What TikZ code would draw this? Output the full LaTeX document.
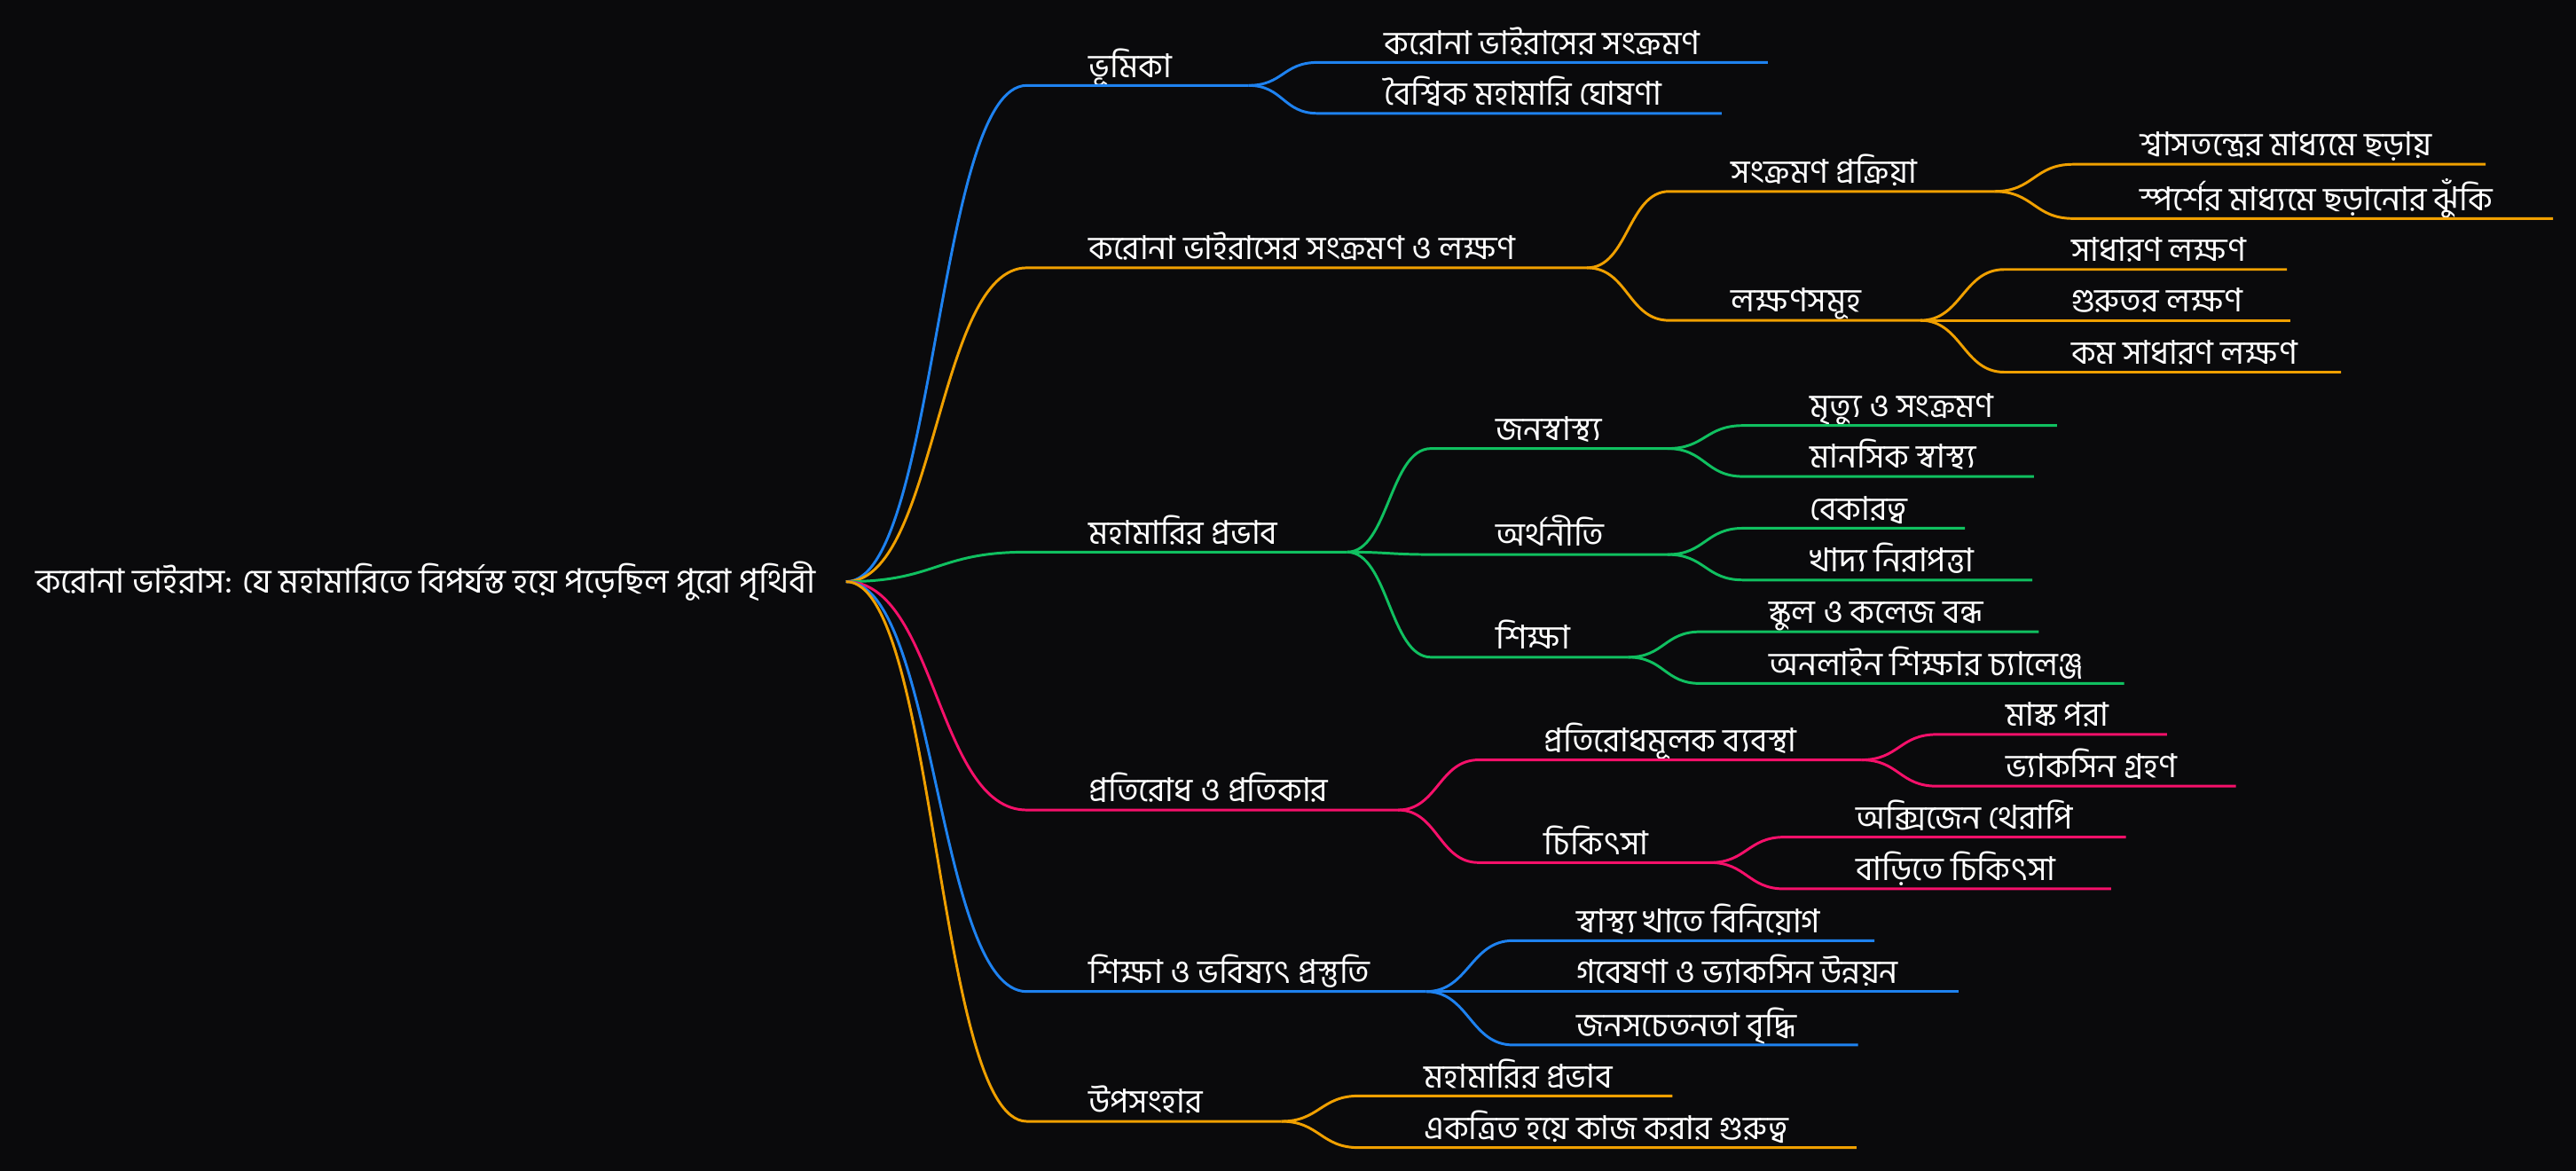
\documentclass[tikz,border=0pt]{standalone}
\usepackage{fontspec}
\newfontfamily\bnfont[Script=Bengali]{Hind Siliguri}
\definecolor{bg}{HTML}{0A0A0C}
\definecolor{cblue}{HTML}{1E82F0}
\definecolor{corange}{HTML}{F0A000}
\definecolor{cgreen}{HTML}{10C060}
\definecolor{cpink}{HTML}{F5106A}
\begin{document}
\begin{tikzpicture}[x=1pt,y=-1pt,line width=1.6pt,
  lbl/.style={anchor=base west,inner sep=0pt,text height=15pt,text depth=5pt,text=white,font=\bnfont\fontsize{20}{22}\selectfont},
  link/.style={out=0,in=180,distance=#1}]
  \fill[bg] (0,0) rectangle (1568,712.7);
  % root
  \node[lbl,font=\bnfont\fontsize{20.5}{24}\selectfont] (root) at (21,361) {করোনা ভাইরাস: যে মহামারিতে বিপর্যস্ত হয়ে পড়েছিল পুরো পৃথিবী};
  \coordinate (root-e) at (515,354);
  % ভূমিকা
  \begin{scope}[cblue]
    \coordinate (intro-s) at (625,52); \coordinate (intro-e) at (760,52);
    \node[lbl] (intro) at (662,47) {ভূমিকা};
    \coordinate (introA-s) at (802,38); \coordinate (introA-e) at (1076,38);
    \node[lbl] (introA) at (842,33) {করোনা ভাইরাসের সংক্রমণ};
    \coordinate (introB-s) at (802,69); \coordinate (introB-e) at (1048,69);
    \node[lbl] (introB) at (842,64) {বৈশ্বিক মহামারি ঘোষণা};
    \draw (root-e) to[link=55pt] (intro-s) -- (intro-e);
    \draw (intro-e) to[link=21pt] (introA-s) -- (introA-e);
    \draw (intro-e) to[link=21pt] (introB-s) -- (introB-e);
  \end{scope}
  % সংক্রমণ ও লক্ষণ
  \begin{scope}[corange]
    \coordinate (spread-s) at (625,163); \coordinate (spread-e) at (966,163);
    \node[lbl] (spread) at (662,158) {করোনা ভাইরাসের সংক্রমণ ও লক্ষণ};
    \coordinate (route-s) at (1016,116.5); \coordinate (route-e) at (1214,116.5);
    \node[lbl] (route) at (1053,111.5) {সংক্রমণ প্রক্রিয়া};
    \coordinate (route1-s) at (1262,100); \coordinate (route1-e) at (1513,100);
    \node[lbl] (route1) at (1302,95) {শ্বাসতন্ত্রের মাধ্যমে ছড়ায়};
    \coordinate (route2-s) at (1262,133); \coordinate (route2-e) at (1554,133);
    \node[lbl] (route2) at (1302,128) {স্পর্শের মাধ্যমে ছড়ানোর ঝুঁকি};
    \coordinate (symp-s) at (1016,195); \coordinate (symp-e) at (1169,195);
    \node[lbl] (symp) at (1053,190) {লক্ষণসমূহ};
    \coordinate (symp1-s) at (1220,164); \coordinate (symp1-e) at (1392,164);
    \node[lbl] (symp1) at (1260,159) {সাধারণ লক্ষণ};
    \coordinate (symp2-s) at (1220,195); \coordinate (symp2-e) at (1394,195);
    \node[lbl] (symp2) at (1260,190) {গুরুতর লক্ষণ};
    \coordinate (symp3-s) at (1220,226.5); \coordinate (symp3-e) at (1425,226.5);
    \node[lbl] (symp3) at (1260,221.5) {কম সাধারণ লক্ষণ};
    \draw (root-e) to[link=55pt] (spread-s) -- (spread-e);
    \draw (spread-e) to[link=25pt] (route-s) -- (route-e);
    \draw (spread-e) to[link=25pt] (symp-s) -- (symp-e);
    \draw (route-e) to[link=24pt] (route1-s) -- (route1-e);
    \draw (route-e) to[link=24pt] (route2-s) -- (route2-e);
    \draw (symp-e) to[link=25pt] (symp1-s) -- (symp1-e);
    \draw (symp-e) to[link=25pt] (symp2-s) -- (symp2-e);
    \draw (symp-e) to[link=25pt] (symp3-s) -- (symp3-e);
  \end{scope}
  % মহামারির প্রভাব
  \begin{scope}[cgreen]
    \coordinate (impact-s) at (625,336); \coordinate (impact-e) at (820,336);
    \node[lbl] (impact) at (662,331) {মহামারির প্রভাব};
    \coordinate (health-s) at (871,273); \coordinate (health-e) at (1015,273);
    \node[lbl] (health) at (910,268) {জনস্বাস্থ্য};
    \coordinate (health1-s) at (1061,259); \coordinate (health1-e) at (1252,259);
    \node[lbl] (health1) at (1101,254) {মৃত্যু ও সংক্রমণ};
    \coordinate (health2-s) at (1061,290); \coordinate (health2-e) at (1238,290);
    \node[lbl] (health2) at (1101,285) {মানসিক স্বাস্থ্য};
    \coordinate (econ-s) at (871,337.5); \coordinate (econ-e) at (1015,337.5);
    \node[lbl] (econ) at (910,332.5) {অর্থনীতি};
    \coordinate (econ1-s) at (1061,321.5); \coordinate (econ1-e) at (1196,321.5);
    \node[lbl] (econ1) at (1101,316.5) {বেকারত্ব};
    \coordinate (econ2-s) at (1061,353); \coordinate (econ2-e) at (1237,353);
    \node[lbl] (econ2) at (1101,348) {খাদ্য নিরাপত্তা};
    \coordinate (edu-s) at (871,400); \coordinate (edu-e) at (991,400);
    \node[lbl] (edu) at (910,395) {শিক্ষা};
    \coordinate (edu1-s) at (1035,384.5); \coordinate (edu1-e) at (1241,384.5);
    \node[lbl] (edu1) at (1076,379.5) {স্কুল ও কলেজ বন্ধ};
    \coordinate (edu2-s) at (1035,416); \coordinate (edu2-e) at (1293,416);
    \node[lbl] (edu2) at (1076,411) {অনলাইন শিক্ষার চ্যালেঞ্জ};
    \draw (root-e) to[link=55pt] (impact-s) -- (impact-e);
    \draw (impact-e) to[link=25pt] (health-s) -- (health-e);
    \draw (impact-e) to[link=25pt] (econ-s) -- (econ-e);
    \draw (impact-e) to[link=25pt] (edu-s) -- (edu-e);
    \draw (health-e) to[link=23pt] (health1-s) -- (health1-e);
    \draw (health-e) to[link=23pt] (health2-s) -- (health2-e);
    \draw (econ-e) to[link=23pt] (econ1-s) -- (econ1-e);
    \draw (econ-e) to[link=23pt] (econ2-s) -- (econ2-e);
    \draw (edu-e) to[link=22pt] (edu1-s) -- (edu1-e);
    \draw (edu-e) to[link=22pt] (edu2-s) -- (edu2-e);
  \end{scope}
  % প্রতিরোধ ও প্রতিকার
  \begin{scope}[cpink]
    \coordinate (prevent-s) at (625,493); \coordinate (prevent-e) at (851,493);
    \node[lbl] (prevent) at (662,488) {প্রতিরোধ ও প্রতিকার};
    \coordinate (prevm-s) at (900,462.5); \coordinate (prevm-e) at (1133,462.5);
    \node[lbl] (prevm) at (939,457.5) {প্রতিরোধমূলক ব্যবস্থা};
    \coordinate (prevm1-s) at (1179,447); \coordinate (prevm1-e) at (1319,447);
    \node[lbl] (prevm1) at (1220,442) {মাস্ক পরা};
    \coordinate (prevm2-s) at (1179,478.5); \coordinate (prevm2-e) at (1361,478.5);
    \node[lbl] (prevm2) at (1220,473.5) {ভ্যাকসিন গ্রহণ};
    \coordinate (treat-s) at (900,525); \coordinate (treat-e) at (1041,525);
    \node[lbl] (treat) at (939,520) {চিকিৎসা};
    \coordinate (treat1-s) at (1086,509.5); \coordinate (treat1-e) at (1294,509.5);
    \node[lbl] (treat1) at (1129,504.5) {অক্সিজেন থেরাপি};
    \coordinate (treat2-s) at (1086,541); \coordinate (treat2-e) at (1285,541);
    \node[lbl] (treat2) at (1129,536) {বাড়িতে চিকিৎসা};
    \draw (root-e) to[link=55pt] (prevent-s) -- (prevent-e);
    \draw (prevent-e) to[link=24pt] (prevm-s) -- (prevm-e);
    \draw (prevent-e) to[link=24pt] (treat-s) -- (treat-e);
    \draw (prevm-e) to[link=23pt] (prevm1-s) -- (prevm1-e);
    \draw (prevm-e) to[link=23pt] (prevm2-s) -- (prevm2-e);
    \draw (treat-e) to[link=22pt] (treat1-s) -- (treat1-e);
    \draw (treat-e) to[link=22pt] (treat2-s) -- (treat2-e);
  \end{scope}
  % শিক্ষা ও ভবিষ্যৎ প্রস্তুতি
  \begin{scope}[cblue]
    \coordinate (future-s) at (625,603.5); \coordinate (future-e) at (868,603.5);
    \node[lbl] (future) at (662,598.5) {শিক্ষা ও ভবিষ্যৎ প্রস্তুতি};
    \coordinate (future1-s) at (921,572.5); \coordinate (future1-e) at (1141,572.5);
    \node[lbl] (future1) at (959,567.5) {স্বাস্থ্য খাতে বিনিয়োগ};
    \coordinate (future2-s) at (921,603.5); \coordinate (future2-e) at (1192,603.5);
    \node[lbl] (future2) at (959,598.5) {গবেষণা ও ভ্যাকসিন উন্নয়ন};
    \coordinate (future3-s) at (921,636); \coordinate (future3-e) at (1131,636);
    \node[lbl] (future3) at (959,631) {জনসচেতনতা বৃদ্ধি};
    \draw (root-e) to[link=55pt] (future-s) -- (future-e);
    \draw (future-e) to[link=26pt] (future1-s) -- (future1-e);
    \draw (future-e) to[link=26pt] (future2-s) -- (future2-e);
    \draw (future-e) to[link=26pt] (future3-s) -- (future3-e);
  \end{scope}
  % উপসংহার
  \begin{scope}[corange]
    \coordinate (concl-s) at (625,682.5); \coordinate (concl-e) at (780,682.5);
    \node[lbl] (concl) at (662,677.5) {উপসংহার};
    \coordinate (concl1-s) at (827,667); \coordinate (concl1-e) at (1018,667);
    \node[lbl] (concl1) at (866,662) {মহামারির প্রভাব};
    \coordinate (concl2-s) at (827,698.5); \coordinate (concl2-e) at (1130,698.5);
    \node[lbl] (concl2) at (866,693.5) {একত্রিত হয়ে কাজ করার গুরুত্ব};
    \draw (root-e) to[link=55pt] (concl-s) -- (concl-e);
    \draw (concl-e) to[link=23pt] (concl1-s) -- (concl1-e);
    \draw (concl-e) to[link=23pt] (concl2-s) -- (concl2-e);
  \end{scope}
\end{tikzpicture}
\end{document}
